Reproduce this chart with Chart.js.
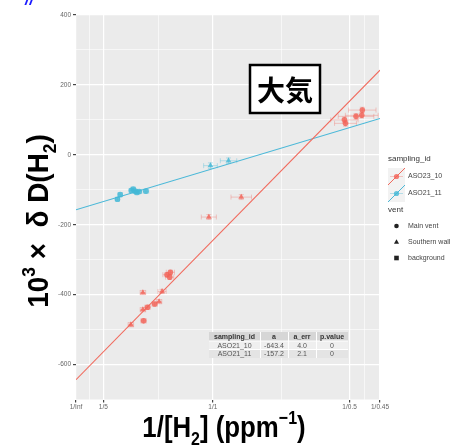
<!DOCTYPE html>
<html><head><meta charset="utf-8">
<script src="https://cdn.jsdelivr.net/npm/chart.js@4.4.1/dist/chart.umd.min.js"></script>
<style>html,body{margin:0;padding:0;background:#fff;overflow:hidden}#wrap{width:463px;height:447px;position:relative}</style>
</head><body><div id="wrap"><canvas id="c" width="463" height="447"></canvas></div>
<script>
// regression summary per sampling campaign
const legendIds = ['ASO23_10', 'ASO21_11'];
const tableIds = ['ASO21_10', 'ASO21_11'];
const intercepts = [-643.4, -157.2];
const interceptErr = ['4.0', '2.1'];
const pValues = ['0', '0'];
const slopes = [398.6, 117.6];

// ASO21_10 samples: x = 1/[H2], y = dD(H2)
const s10X = [0.401, 0.494, 0.489, 0.523, 0.575, 0.607, 0.629, 0.489, 0.665, 0.690, 0.685, 0.971, 1.208, 1.962, 1.970, 2.047, 2.089, 2.093];
const s10Y = [-486, -475, -443, -436, -427, -420, -391, -394, -343, -336, -350, -178, -121, 100, 90, 110, 113, 128];
const s10Vent = ['S','M','S','M','M','S','S','S','M','M','M','S','S','M','M','M','M','M'];
const s10XErr = [0.02,0.02,0.02,0.02,0.02,0.02,0.03,0.02,0.03,0.03,0.03,0.055,0.075,0.10,0.08,0.13,0.12,0.10];
const s10YErr = [6,6,6,6,6,6,6,6,6,6,6,7,7,8,8,8,8,8];

// ASO21_11 samples
const s11X = [0.303, 0.323, 0.404, 0.418, 0.432, 0.445, 0.462, 0.511, 0.983, 1.115];
const s11Y = [-127, -114, -102, -98, -104, -108, -105, -104, -31, -17];
const s11Vent = ['M','M','M','M','M','M','M','M','S','S'];
const s11XErr = [0.015,0.015,0.015,0.015,0.015,0.015,0.015,0.02,0.05,0.06];
const s11YErr = [5,5,5,5,5,5,5,5,8,8];

// axes
const xTickValues = [0, 0.2, 1, 2, 1/0.45];
const xTickLabels = ['1/Inf', '1/5', '1/1', '1/0.5', '1/0.45'];
const xMinorTicks = [0.1, 0.6, 1.5, (2 + 1/0.45) / 2];
const yTickValues = [-600, -400, -200, 0, 200, 400];
const yMinorTicks = [-500, -300, -100, 100, 300];
const ventNames = ['Main vent', 'Southern wall', 'background'];
const ventCodes = ['M', 'S', 'B'];
const ventShapes = {M: 'circle', S: 'triangle', B: 'rect'};

const RED = 'rgba(242,98,86,0.8)';
const RED_LINE = '#f1695c';
const RED_ERR = 'rgba(242,110,100,0.35)';
const BLUE = 'rgba(66,184,214,0.8)';
const BLUE_LINE = '#4ab8d8';
const BLUE_ERR = 'rgba(66,184,214,0.35)';
const XMAX = 1 / 0.45;

function pts(xs, ys) { return xs.map((v, i) => ({x: v, y: ys[i]})); }
function fitLine(k) { return [{x: 0, y: intercepts[k]}, {x: XMAX, y: intercepts[k] + slopes[k] * XMAX}]; }

const TITLE_FONT = '"Liberation Sans", Arial, sans-serif';

// draw text runs with sub/superscripts, centred on (cx, cy baseline), condensed by sx
function richText(ctx, parts, cx, cy, size, rotate, sx) {
  ctx.save();
  ctx.translate(cx, cy);
  if (rotate) ctx.rotate(-Math.PI / 2);
  ctx.scale(sx, 1);
  ctx.fillStyle = '#000';
  ctx.textBaseline = 'alphabetic';
  ctx.textAlign = 'left';
  let total = 0;
  const widths = parts.map(p => {
    ctx.font = 'bold ' + (p.s ? size * 0.62 : size) + 'px ' + TITLE_FONT;
    const w = ctx.measureText(p.t).width;
    total += w; return w;
  });
  let x = -total / 2;
  parts.forEach((p, i) => {
    ctx.font = 'bold ' + (p.s ? size * 0.62 : size) + 'px ' + TITLE_FONT;
    const dy = p.s === 'sub' ? size * 0.28 : p.s === 'sup' ? -size * 0.42 : 0;
    ctx.fillText(p.t, x, dy);
    x += widths[i];
  });
  ctx.restore();
}

const panelBg = {
  id: 'panelBg',
  beforeDraw(chart) {
    const {ctx, chartArea: a} = chart;
    ctx.save();
    ctx.fillStyle = '#ebebeb';
    ctx.fillRect(a.left, a.top, a.right - a.left, a.bottom - a.top);
    ctx.restore();
  }
};

const errorBars = {
  id: 'errorBars',
  beforeDatasetsDraw(chart) {
    const {ctx, chartArea: a, scales: {x, y}} = chart;
    ctx.save();
    ctx.beginPath(); ctx.rect(a.left, a.top, a.right - a.left, a.bottom - a.top); ctx.clip();
    ctx.lineWidth = 1;
    chart.data.datasets.forEach(ds => {
      if (!ds.xErr) return;
      ctx.strokeStyle = ds.errColor;
      ds.data.forEach((p, i) => {
        const px = x.getPixelForValue(p.x), py = y.getPixelForValue(p.y);
        const x0 = x.getPixelForValue(p.x - ds.xErr[i]), x1 = x.getPixelForValue(p.x + ds.xErr[i]);
        const y0 = y.getPixelForValue(p.y - ds.yErr[i]), y1 = y.getPixelForValue(p.y + ds.yErr[i]);
        ctx.beginPath();
        ctx.moveTo(x0, py); ctx.lineTo(x1, py);
        ctx.moveTo(x0, py - 2.5); ctx.lineTo(x0, py + 2.5);
        ctx.moveTo(x1, py - 2.5); ctx.lineTo(x1, py + 2.5);
        ctx.moveTo(px, y0); ctx.lineTo(px, y1);
        ctx.moveTo(px - 2.5, y0); ctx.lineTo(px + 2.5, y0);
        ctx.moveTo(px - 2.5, y1); ctx.lineTo(px + 2.5, y1);
        ctx.stroke();
      });
    });
    ctx.restore();
  }
};

function shape(ctx, kind, x, y, r, color) {
  ctx.fillStyle = color;
  ctx.beginPath();
  if (kind === 'circle') ctx.arc(x, y, r, 0, Math.PI * 2);
  else if (kind === 'triangle') { ctx.moveTo(x, y - r * 1.15); ctx.lineTo(x + r * 1.1, y + r * 0.75); ctx.lineTo(x - r * 1.1, y + r * 0.75); ctx.closePath(); }
  else ctx.rect(x - r, y - r, 2 * r, 2 * r);
  ctx.fill();
}

const overlay = {
  id: 'overlay',
  afterDraw(chart) {
    const ctx = chart.ctx;
    ctx.save();

    // fragment of heading above the panel
    ctx.fillStyle = '#1a1aff';
    ctx.font = 'bold italic 16px "Liberation Sans", Arial, sans-serif';
    ctx.textBaseline = 'alphabetic';
    ctx.fillText('//', 25, 5);

    // summary table
    const cols = [209, 260, 288, 316, 348];
    const rows = [332, 341, 349.5, 358];
    const head = ['sampling_id', 'a', 'a_err', 'p.value'];
    const body = [[tableIds[0], intercepts[0].toFixed(1), interceptErr[0], pValues[0]],
                  [tableIds[1], intercepts[1].toFixed(1), interceptErr[1], pValues[1]]];
    ctx.fillStyle = '#d6d6d6';
    ctx.fillRect(cols[0], rows[0], cols[4] - cols[0], rows[1] - rows[0]);
    ctx.fillStyle = '#efefef';
    ctx.fillRect(cols[0], rows[1], cols[4] - cols[0], rows[2] - rows[1]);
    ctx.fillStyle = '#e4e4e4';
    ctx.fillRect(cols[0], rows[2], cols[4] - cols[0], rows[3] - rows[2]);
    ctx.strokeStyle = '#ffffff'; ctx.lineWidth = 1;
    ctx.beginPath();
    for (let i = 1; i < 4; i++) { ctx.moveTo(cols[i] + 0.5, rows[0]); ctx.lineTo(cols[i] + 0.5, rows[3]); }
    ctx.moveTo(cols[0], rows[1]); ctx.lineTo(cols[4], rows[1]);
    ctx.moveTo(cols[0], rows[2]); ctx.lineTo(cols[4], rows[2]);
    ctx.stroke();
    ctx.textAlign = 'center'; ctx.textBaseline = 'middle';
    ctx.font = 'bold 7px "Liberation Sans", Arial, sans-serif';
    ctx.fillStyle = '#333';
    head.forEach((h, i) => ctx.fillText(h, (cols[i] + cols[i + 1]) / 2, (rows[0] + rows[1]) / 2 + 0.5));
    ctx.font = '7px "Liberation Sans", Arial, sans-serif';
    ctx.fillStyle = '#555';
    body.forEach((r, j) => r.forEach((v, i) => ctx.fillText(v, (cols[i] + cols[i + 1]) / 2, (rows[j + 1] + rows[j + 2]) / 2 + 0.5)));

    // boxed label
    ctx.fillStyle = '#fff';
    ctx.fillRect(250, 65, 70, 48);
    ctx.strokeStyle = '#000'; ctx.lineWidth = 2.5;
    ctx.strokeRect(250, 65, 70, 48);
    ctx.fillStyle = '#000';
    ctx.font = 'bold 28px "Noto Sans CJK JP", sans-serif';
    ctx.textAlign = 'center'; ctx.textBaseline = 'middle';
    ctx.fillText('大気', 285, 90);

    // legend: sampling_id
    ctx.textAlign = 'left'; ctx.textBaseline = 'middle';
    ctx.font = '8px "Liberation Sans", Arial, sans-serif';
    ctx.fillStyle = '#333';
    ctx.fillText('sampling_id', 388, 159);
    const keyCol = [[RED_LINE, RED, RED_ERR], [BLUE_LINE, BLUE, BLUE_ERR]];
    legendIds.forEach((id, k) => {
      const ky = 168 + k * 17;
      ctx.fillStyle = '#f2f2f2'; ctx.fillRect(388, ky, 17, 17);
      ctx.strokeStyle = keyCol[k][2]; ctx.lineWidth = 1;
      ctx.beginPath(); ctx.moveTo(390, ky + 8.5); ctx.lineTo(403, ky + 8.5); ctx.stroke();
      ctx.strokeStyle = keyCol[k][0];
      ctx.beginPath(); ctx.moveTo(388, ky + 17); ctx.lineTo(405, ky); ctx.stroke();
      shape(ctx, 'circle', 396.5, ky + 8.5, 2.6, keyCol[k][1]);
      ctx.fillStyle = '#444'; ctx.font = '7px "Liberation Sans", Arial, sans-serif';
      ctx.fillText(id, 408, ky + 8.5);
    });
    // legend: vent
    ctx.font = '8px "Liberation Sans", Arial, sans-serif';
    ctx.fillStyle = '#333';
    ctx.fillText('vent', 388, 210);
    ventNames.forEach((nm, k) => {
      const ky = 218 + k * 16;
      shape(ctx, ventShapes[ventCodes[k]], 396.5, ky + 8, 2.3, '#222');
      ctx.fillStyle = '#444'; ctx.font = '7px "Liberation Sans", Arial, sans-serif';
      ctx.fillText(nm, 408, ky + 8);
    });

    // axis titles
    richText(ctx, [{t: '1/[H'}, {t: '2', s: 'sub'}, {t: '] (ppm'}, {t: '\u22121', s: 'sup'}, {t: ')'}], 224, 437, 30, false, 0.86);
    richText(ctx, [{t: '10'}, {t: '3', s: 'sup'}, {t: ' \u00d7  \u03b4 D(H'}, {t: '2', s: 'sub'}, {t: ')'}], 48, 221, 30, true, 0.93);
    ctx.restore();
  }
};

const gridMajorMinor = (majors) => ({
  color: '#ffffff',
  lineWidth: c => (c.tick && majors.includes(c.tick.value)) ? 1.2 : 0.6,
  tickColor: c => (c.tick && majors.includes(c.tick.value)) ? '#444' : 'rgba(0,0,0,0)',
  tickLength: 3,
  drawOnChartArea: true
});

new Chart(document.getElementById('c'), {
  type: 'scatter',
  data: {
    datasets: [
      {label: legendIds[0], data: pts(s10X, s10Y), backgroundColor: RED, borderWidth: 0,
       pointStyle: s10Vent.map(v => ventShapes[v]), pointRadius: s10Vent.map(v => v === 'S' ? 3.4 : 2.8),
       xErr: s10XErr, yErr: s10YErr, errColor: RED_ERR, order: 1},
      {label: legendIds[1], data: pts(s11X, s11Y), backgroundColor: BLUE, borderWidth: 0,
       pointStyle: s11Vent.map(v => ventShapes[v]), pointRadius: s11Vent.map(v => v === 'S' ? 3.4 : 2.8),
       xErr: s11XErr, yErr: s11YErr, errColor: BLUE_ERR, order: 1},
      {type: 'line', data: fitLine(0), borderColor: RED_LINE, borderWidth: 1.1, pointRadius: 0, fill: false, order: 2},
      {type: 'line', data: fitLine(1), borderColor: BLUE_LINE, borderWidth: 1.1, pointRadius: 0, fill: false, order: 2}
    ]
  },
  options: {
    responsive: false, animation: false, devicePixelRatio: 1,
    layout: {padding: {left: 0, right: 83, top: 15, bottom: 0}},
    plugins: {legend: {display: false}, tooltip: {enabled: false}},
    scales: {
      x: {
        type: 'linear', min: 0, max: XMAX,
        afterBuildTicks: s => { s.ticks = xTickValues.concat(xMinorTicks).sort((a, b) => a - b).map(v => ({value: v})); },
        afterFit: s => { s.height = 47.5; },
        ticks: {autoSkip: false, maxRotation: 0, padding: 1, color: '#666',
                font: {size: 6.5, family: '"Liberation Sans", Arial, sans-serif'},
                callback: v => { const i = xTickValues.findIndex(t => Math.abs(t - v) < 1e-6); return i >= 0 ? xTickLabels[i] : ''; }},
        grid: gridMajorMinor(xTickValues),
        border: {display: false}
      },
      y: {
        type: 'linear', min: -700, max: 400,
        afterBuildTicks: s => { s.ticks = yTickValues.concat(yMinorTicks).sort((a, b) => a - b).map(v => ({value: v})); },
        afterFit: s => { s.width = 76; },
        ticks: {autoSkip: false, padding: 2, color: '#666',
                font: {size: 6.5, family: '"Liberation Sans", Arial, sans-serif'},
                callback: v => yTickValues.includes(v) ? String(v) : ''},
        grid: gridMajorMinor(yTickValues),
        border: {display: false}
      }
    }
  },
  plugins: [panelBg, errorBars, overlay]
});
</script></body></html>
